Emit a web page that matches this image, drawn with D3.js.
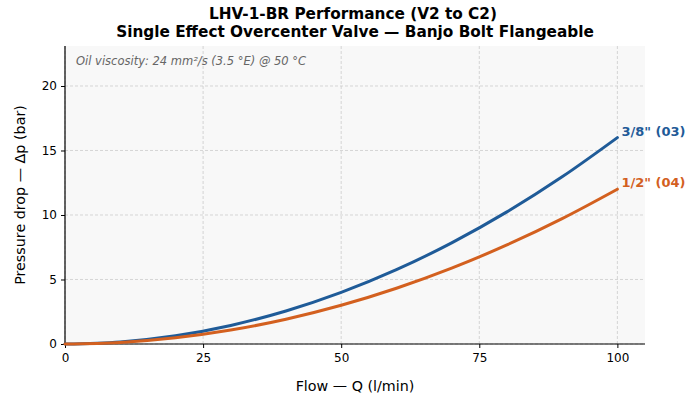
<!DOCTYPE html>
<html>
<head>
  <meta charset='utf-8'>
  <title>LHV-1-BR Performance</title>
  <style>
    body { margin: 0; background: #fff; }
    svg text { font-family: 'DejaVu Sans', sans-serif; }
  </style>
</head>
<body>
<div id="chart"></div>
<script src="https://cdnjs.cloudflare.com/ajax/libs/d3/7.8.5/d3.min.js"></script>
<script>

// values
var flow = [0, 10, 20, 30, 40, 50, 60, 70, 80, 90, 100];
var dp38 = [0, 0.16, 0.64, 1.44, 2.56, 4.0, 5.76, 7.84, 10.24, 12.96, 16.0];
var dp12 = [0, 0.12, 0.48, 1.08, 1.92, 3.0, 4.32, 5.88, 7.68, 9.72, 12.0];
var seriesNames = ['3/8" (03)', '1/2" (04)'];
var seriesColors = ['#1f5b98', '#d3601f'];
var xTicks = [0, 25, 50, 75, 100];
var yTicks = [0, 5, 10, 15, 20];

var width = 700, height = 406;
var margin = {top: 46, right: 55, bottom: 62, left: 65};
var w = width - margin.left - margin.right,
    h = height - margin.top - margin.bottom;

var svg = d3.select('#chart').append('svg')
  .attr('width', width)
  .attr('height', height);

var x = d3.scaleLinear().domain([0, 105]).range([0, w]);
var y = d3.scaleLinear().domain([0, 23.1]).range([h, 0]);

// title
svg.append('text')
  .attr('x', width / 2 + 3).attr('y', 19)
  .attr('text-anchor', 'middle')
  .attr('font-size', '15.3px').attr('font-weight', 'bold')
  .text('LHV-1-BR Performance (V2 to C2)');
svg.append('text')
  .attr('x', width / 2 + 5).attr('y', 37)
  .attr('text-anchor', 'middle')
  .attr('font-size', '15.3px').attr('font-weight', 'bold')
  .text('Single Effect Overcenter Valve \u2014 Banjo Bolt Flangeable');

var g = svg.append('g')
  .attr('transform', 'translate(' + margin.left + ',' + margin.top + ')');

g.append('rect')
  .attr('width', w).attr('height', h)
  .attr('fill', '#f8f8f8');

// grid
g.selectAll('.gx').data(xTicks).enter().append('line')
  .attr('x1', function(d) { return x(d); })
  .attr('x2', function(d) { return x(d); })
  .attr('y1', 0).attr('y2', h)
  .attr('stroke', '#cccccc').attr('stroke-width', 0.8)
  .attr('stroke-dasharray', '3,2');
g.selectAll('.gy').data(yTicks).enter().append('line')
  .attr('y1', function(d) { return y(d); })
  .attr('y2', function(d) { return y(d); })
  .attr('x1', 0).attr('x2', w)
  .attr('stroke', '#cccccc').attr('stroke-width', 0.8)
  .attr('stroke-dasharray', '3,2');

// axes
var xAxis = g.append('g')
  .attr('transform', 'translate(0,' + h + ')')
  .call(d3.axisBottom(x).tickValues(xTicks).tickSize(4).tickPadding(5));
var yAxis = g.append('g')
  .call(d3.axisLeft(y).tickValues(yTicks).tickSize(4).tickPadding(4));

[xAxis, yAxis].forEach(function(a) {
  a.select('.domain').attr('stroke', '#000').attr('stroke-width', 1.2);
  a.selectAll('.tick line').attr('stroke', '#000');
  a.selectAll('.tick text')
    .attr('fill', '#000')
    .attr('font-size', '12px')
    .attr('font-family', "'DejaVu Sans', sans-serif");
});
// keep domain paths as plain lines (no outer ticks)
xAxis.select('.domain').attr('d', 'M0,0H' + w);
yAxis.select('.domain').attr('d', 'M0,0V' + h);

// axis labels
svg.append('text')
  .attr('x', margin.left + w / 2).attr('y', height - 15)
  .attr('text-anchor', 'middle')
  .attr('font-size', '14.3px')
  .text('Flow \u2014 Q (l/min)');
svg.append('text')
  .attr('transform', 'translate(25,' + (margin.top + h / 2) + ') rotate(-90)')
  .attr('text-anchor', 'middle')
  .attr('font-size', '14.3px')
  .text('Pressure drop \u2014 \u0394p (bar)');

// note
g.append('text')
  .attr('x', 11).attr('y', 19)
  .attr('font-size', '11.5px').attr('font-style', 'italic')
  .attr('fill', '#666')
  .text('Oil viscosity: 24 mm\u00b2/s (3.5 \u00b0E) @ 50 \u00b0C');

// curves
var line = d3.line()
  .x(function(d) { return x(d[0]); })
  .y(function(d) { return y(d[1]); })
  .curve(d3.curveMonotoneX);

var series = [dp38, dp12];
series.forEach(function(vals, i) {
  var pts = flow.map(function(q, j) { return [q, vals[j]]; });
  g.append('path')
    .datum(pts)
    .attr('fill', 'none')
    .attr('stroke', seriesColors[i])
    .attr('stroke-width', 3)
    .attr('stroke-linecap', 'round')
    .attr('d', line);
  var last = pts[pts.length - 1];
  g.append('text')
    .attr('x', x(last[0]) + 4).attr('y', y(last[1]) - 2)
    .attr('font-size', '13px').attr('font-weight', 'bold')
    .attr('fill', seriesColors[i])
    .text(seriesNames[i]);
});

</script>
</body>
</html>
